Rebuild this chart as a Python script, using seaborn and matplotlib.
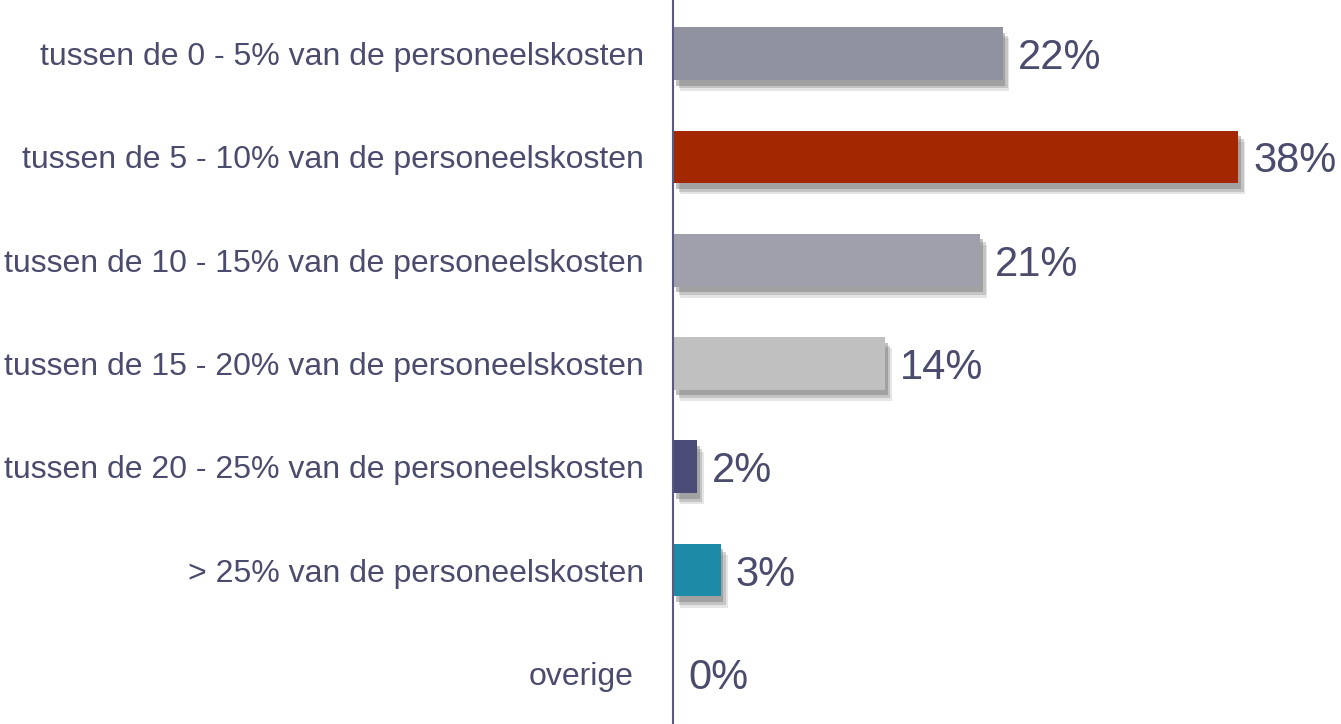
import matplotlib.pyplot as plt
import matplotlib.patheffects as pe
import pandas as pd
import seaborn as sns

categories = [
    'tussen de 0 - 5% van de personeelskosten',
    'tussen de 5 - 10% van de personeelskosten',
    'tussen de 10 - 15% van de personeelskosten',
    'tussen de 15 - 20% van de personeelskosten',
    'tussen de 20 - 25% van de personeelskosten',
    '> 25% van de personeelskosten',
    'overige',
]
values = [22.1, 37.9, 20.6, 14.2, 1.6, 3.2, 0.0]
labels = ['22%', '38%', '21%', '14%', '2%', '3%', '0%']
colors = ['#91929f', '#a32700', '#a0a0ac', '#c0c0c0', '#4b4b78', '#1d8ba8', '#c0c0c0']

text_color = '#4b4b6e'

df = pd.DataFrame({'cat': categories, 'val': values})

sns.set_style('white')
plt.rcParams['font.family'] = ['Liberation Sans', 'DejaVu Sans']

fig = plt.figure(figsize=(13.41, 7.24), dpi=100)
ax = fig.add_axes([673 / 1341, 0, 1 - 673 / 1341, 1])

sns.barplot(data=df, x='val', y='cat', hue='cat', palette=colors,
            orient='h', width=0.51, legend=False, ax=ax, saturation=1,
            linewidth=0, edgecolor='none')

# soft drop shadow below the bars
for bar in ax.patches:
    bar.set_path_effects([
        pe.SimplePatchShadow(offset=(5, -8), shadow_rgbFace='#999999', alpha=0.25),
        pe.SimplePatchShadow(offset=(4, -6), shadow_rgbFace='#888888', alpha=0.35),
        pe.SimplePatchShadow(offset=(2, -4), shadow_rgbFace='#777777', alpha=0.45),
        pe.Normal(),
    ])

for i, (v, lab) in enumerate(zip(values, labels)):
    ax.text(v + 1.0, i, lab, va='center_baseline', ha='left', fontsize=30, color=text_color)

ax.set_xlim(0, 44.8)
ax.set_ylim(6.49, -0.52)
ax.set_xlabel('')
ax.set_ylabel('')
ax.set_xticks([])
ax.tick_params(axis='y', length=0, pad=21, labelsize=23, labelcolor=text_color)
for t in ax.get_yticklabels():
    t.set_verticalalignment('center_baseline')
ax.get_yticklabels()[-1].set_x(-0.015)

for s in ['top', 'right', 'bottom']:
    ax.spines[s].set_visible(False)
ax.spines['left'].set_color('#5a5a80')
ax.spines['left'].set_linewidth(1.5)

fig.savefig('out.png', dpi=100)
